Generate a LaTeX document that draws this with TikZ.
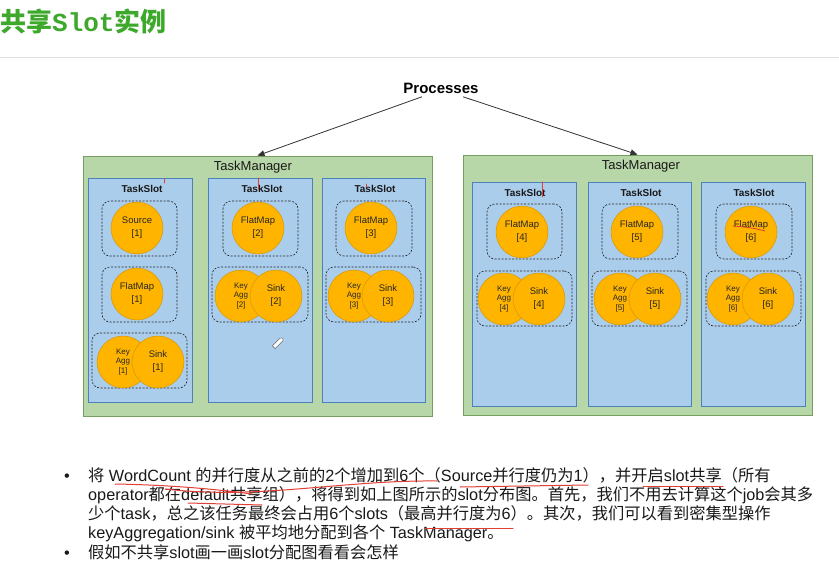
\documentclass[tikz,border=0pt]{standalone}
\usepackage{fontspec}
\setmainfont{Liberation Sans}
\newfontfamily\cjkfont{Noto Sans CJK SC}
\newfontfamily\titlemono{Liberation Mono}
\newcommand\zhs[1]{{\cjkfont #1}}
\usetikzlibrary{arrows.meta}
\definecolor{titlegreen}{RGB}{62,168,44}
\definecolor{tmfill}{RGB}{184,215,168}
\definecolor{tmborder}{RGB}{118,160,98}
\definecolor{slotfill}{RGB}{170,205,236}
\definecolor{slotborder}{RGB}{78,128,185}
\definecolor{opfill}{RGB}{255,180,0}
\definecolor{opborder}{RGB}{214,150,0}
\definecolor{penred}{RGB}{226,62,52}
\begin{document}
\begin{tikzpicture}[x=1pt,y=-1pt,
  tmbox/.style={draw=tmborder,fill=tmfill,line width=0.8pt,minimum width=349pt,minimum height=260pt,inner sep=0pt},
  tmlabel/.style={font=\fontsize{13}{15}\selectfont,text=black!90,inner sep=0pt},
  slotbox/.style={draw=slotborder,fill=slotfill,line width=0.6pt,minimum width=104pt,minimum height=224pt,inner sep=0pt},
  slotlabel/.style={font=\bfseries\fontsize{10}{12}\selectfont,text=black!90,inner sep=0pt},
  grp/.style={draw=black!85,dash pattern=on 2pt off 1.5pt,rounded corners=8pt,line width=0.6pt,minimum height=55pt,inner sep=0pt},
  op/.style={circle,draw=opborder,fill=opfill,line width=0.5pt,minimum size=52pt,inner sep=0pt,align=center,text=black!85,font=\fontsize{9.5}{13}\selectfont},
  kaop/.style={op,font=\fontsize{8}{9.5}\selectfont},
  arr/.style={draw=black!80,line width=0.8pt,-{Triangle[length=7pt,width=6pt]}},
  bodytext/.style={anchor=base west,inner sep=0pt,font=\fontsize{16.25}{19}\selectfont,text=black!90},
  penmark/.style={draw=penred,line width=1pt,line cap=round}
]
\useasboundingbox (0,0) rectangle (839,570);
\fill[white] (0,0) rectangle (839,570);
\draw[black!12,line width=1pt] (0,57) -- (839,57);

% title
\node[anchor=west,inner sep=0pt,text=titlegreen] (title) at (0,21)
  {\fontsize{26}{28}\selectfont\cjkfont\bfseries 共享{\titlemono\bfseries Slot}实例};

% processes
\node[font=\bfseries\fontsize{15}{17}\selectfont] (proc) at (441,88) {Processes};

% task managers
\node[tmbox] (tmL) at (257.5,286) {};
\node[tmbox] (tmR) at (637.5,285) {};
\node[tmlabel] (tmLl) at (253,167) {TaskManager};
\node[tmlabel] (tmRl) at (641,166) {TaskManager};

\draw[arr] ([xshift=-19pt]proc.south) -- (tmL.north);
\draw[arr] ([xshift=22pt]proc.south) -- (tmR.north);

% slots
\node[slotbox] (s1) at (140,290) {};
\node[slotbox] (s2) at (260,290) {};
\node[slotbox,minimum width=103pt] (s3) at (373.5,290) {};
\node[slotbox] (s4) at (524,294) {};
\node[slotbox,minimum width=103pt] (s5) at (639.5,294) {};
\node[slotbox] (s6) at (753,294) {};
\node[slotlabel] (s1l) at (142,189) {TaskSlot};
\node[slotlabel] (s2l) at (262,189) {TaskSlot};
\node[slotlabel] (s3l) at (375,189) {TaskSlot};
\node[slotlabel] (s4l) at (525,193) {TaskSlot};
\node[slotlabel] (s5l) at (641,193) {TaskSlot};
\node[slotlabel] (s6l) at (754,193) {TaskSlot};

% groups
\node[grp,minimum width=75pt] (g1a) at (139.5,228.5) {};
\node[grp,minimum width=75pt] (g1b) at (139.5,294.5) {};
\node[grp,minimum width=95pt] (g1c) at (139.5,360.5) {};
\node[grp,minimum width=75pt] (g2a) at (260.5,228.5) {};
\node[grp,minimum width=96pt] (g2b) at (260,294.5) {};
\node[grp,minimum width=76pt] (g3a) at (374,228.5) {};
\node[grp,minimum width=95pt] (g3b) at (373.5,294.5) {};
\node[grp,minimum width=75pt] (g4a) at (524.5,231.5) {};
\node[grp,minimum width=95pt] (g4b) at (524.5,298.5) {};
\node[grp,minimum width=76pt] (g5a) at (640,231.5) {};
\node[grp,minimum width=95pt] (g5b) at (639.5,298.5) {};
\node[grp,minimum width=76pt] (g6a) at (754,231.5) {};
\node[grp,minimum width=95pt] (g6b) at (753.5,298.5) {};

% operators
\node[op] (src1) at (137,228) {Source\\{[1]}};
\node[op] (fm1) at (137,294) {FlatMap\\{[1]}};
\node[kaop] (ka1) at (123,362) {Key\\Agg\\{[1]}};
\node[op] (sk1) at (158,362) {Sink\\{[1]}};
\node[op] (fm2) at (258,228) {FlatMap\\{[2]}};
\node[kaop] (ka2) at (241,296) {Key\\Agg\\{[2]}};
\node[op] (sk2) at (276,296) {Sink\\{[2]}};
\node[op] (fm3) at (371,228) {FlatMap\\{[3]}};
\node[kaop] (ka3) at (354,296) {Key\\Agg\\{[3]}};
\node[op] (sk3) at (388,296) {Sink\\{[3]}};
\node[op] (fm4) at (522,232) {FlatMap\\{[4]}};
\node[kaop] (ka4) at (504,299) {Key\\Agg\\{[4]}};
\node[op] (sk4) at (539,299) {Sink\\{[4]}};
\node[op] (fm5) at (637,232) {FlatMap\\{[5]}};
\node[kaop] (ka5) at (620,299) {Key\\Agg\\{[5]}};
\node[op] (sk5) at (655,299) {Sink\\{[5]}};
\node[op] (fm6) at (751,232) {FlatMap\\{[6]}};
\node[kaop] (ka6) at (733,299) {Key\\Agg\\{[6]}};
\node[op] (sk6) at (768,299) {Sink\\{[6]}};

% pen marks in the diagram
\draw[penmark,line width=0.7pt] (164,179) -- (164,183);
\draw[penmark,line width=0.7pt] (258,178) -- (258,189);
\draw[penmark,line width=0.7pt] (366,184) -- (366,187);
\draw[penmark,line width=0.7pt] (542,182) -- (542,197);
\draw[penmark,line width=0.8pt] (733,226) .. controls (748,227) and (758,229) .. (765,231);

% pencil cursor
\draw[fill=white,draw=black!60,line width=0.5pt,rotate around={45:(278,343)}]
  (272,341) -- (283,341) -- (285,343) -- (283,345) -- (272,345) -- cycle;

% bottom text
\node[bodytext] (b1) at (64,481) {•};
\node[bodytext] (t1) at (88,481) {\zhs{将} WordCount \zhs{的并行度从之前的}2\zhs{个增加到}6\zhs{个（}Source\zhs{并行度仍为}1\zhs{），并开启}slot\zhs{共享（所有}};
\node[bodytext] (t2) at (88,500) {operator\zhs{都在}default\zhs{共享组），将得到如上图所示的}slot\zhs{分布图。首先，我们不用去计算这个}job\zhs{会其多}};
\node[bodytext] (t3) at (88,519) {\zhs{少个}task\zhs{，总之该任务最终会占用}6\zhs{个}slots\zhs{（最高并行度为}6\zhs{）。其次，我们可以看到密集型操作}};
\node[bodytext] (t4) at (88,538) {keyAggregation/sink \zhs{被平均地分配到各个} TaskManager\zhs{。}};
\node[bodytext] (b2) at (64,558) {•};
\node[bodytext] (t5) at (88,558) {\zhs{假如不共享}slot\zhs{画一画}slot\zhs{分配图看看会怎样}};

% red underlines
\draw[penmark] (115,484) .. controls (170,485) and (215,489) .. (252,494);
\draw[penmark] (165,489) .. controls (260,500) and (340,480) .. (437,481);
\draw[penmark] (460,487) -- (588,485);
\draw[penmark] (643,486) -- (723,486);
\draw[penmark] (188,503) -- (262,505);
\draw[penmark] (425,528) -- (513,528);
\end{tikzpicture}
\end{document}
